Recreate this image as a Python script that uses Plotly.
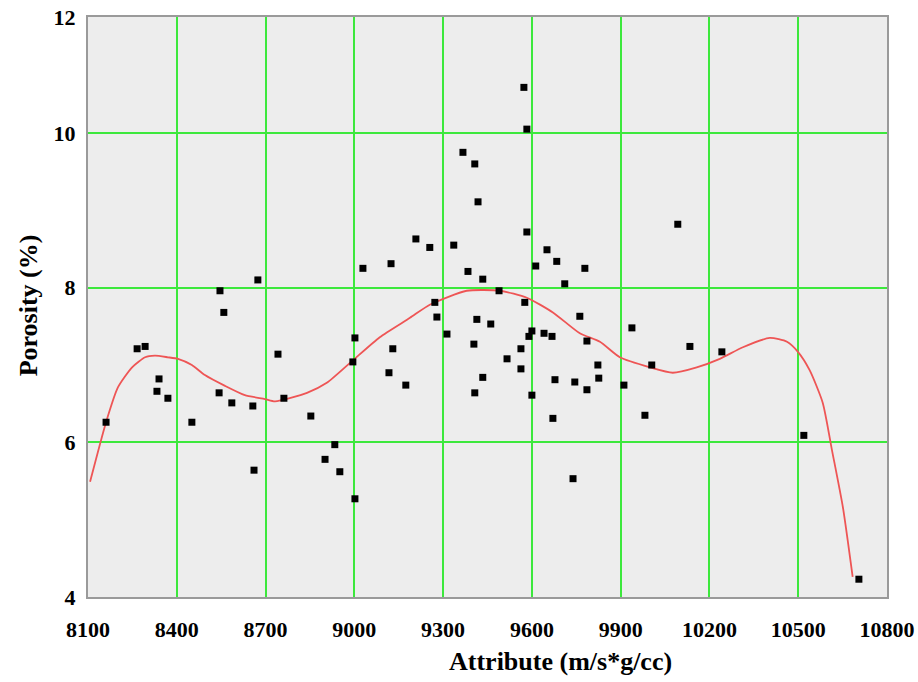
import plotly.graph_objects as go

# Scatter data: attribute (m/s*g/cc) vs porosity (%)
attr = [8161, 8266, 8293, 8340, 8333, 8370, 8451, 8543, 8546, 8559,
        8586, 8657, 8661, 8674, 8742, 8762, 8853, 8901, 8934, 8951,
        9002, 9002, 8995, 9029, 9117, 9130, 9124, 9174, 9208, 9255,
        9336, 9272, 9279, 9313, 9367, 9407, 9418, 9384, 9434, 9489,
        9414, 9461, 9404, 9434, 9407, 9516, 9563, 9563, 9576, 9573,
        9583, 9583, 9600, 9590, 9641, 9668, 9600, 9613, 9651, 9684,
        9711, 9779, 9762, 9786, 9678, 9745, 9786, 9671, 9739, 9823,
        9826, 9911, 9938, 9982, 10005, 10093, 10134, 10242, 10519, 10705]
porosity = [6.26, 7.21, 7.24, 6.82, 6.66, 6.57, 6.26, 6.64, 7.96, 7.68,
            6.51, 6.47, 5.64, 8.10, 7.14, 6.57, 6.34, 5.78, 5.97, 5.62,
            5.27, 7.35, 7.04, 8.25, 6.90, 7.21, 8.31, 6.74, 8.63, 8.52,
            8.55, 7.81, 7.62, 7.40, 9.75, 9.60, 9.11, 8.21, 8.11, 7.96,
            7.59, 7.53, 7.27, 6.84, 6.64, 7.08, 7.21, 6.95, 7.81, 10.59,
            10.05, 8.72, 7.44, 7.37, 7.41, 7.37, 6.61, 8.28, 8.49, 8.34,
            8.05, 8.25, 7.63, 7.31, 6.81, 6.78, 6.68, 6.31, 5.53, 7.00,
            6.83, 6.74, 7.48, 6.35, 7.00, 8.82, 7.24, 7.17, 6.09, 4.23]

# Fitted trend curve
fit_x = [8107, 8161, 8201, 8249, 8293, 8326, 8370, 8404, 8451, 8495,
         8563, 8630, 8698, 8732, 8840, 8907, 8995, 9086, 9188, 9255,
         9380, 9492, 9583, 9671, 9762, 9830, 9897, 9999, 10076, 10157,
         10235, 10313, 10404, 10462, 10499, 10539, 10583, 10614, 10651, 10684]
fit_y = [5.49, 6.26, 6.71, 6.97, 7.10, 7.12, 7.10, 7.08, 7.00, 6.87,
         6.73, 6.61, 6.56, 6.53, 6.64, 6.77, 7.06, 7.36, 7.61, 7.78,
         7.96, 7.96, 7.87, 7.68, 7.41, 7.30, 7.10, 6.97, 6.90, 6.97,
         7.08, 7.23, 7.35, 7.30, 7.17, 6.93, 6.51, 5.90, 5.16, 4.26]

x_ticks = [8100, 8400, 8700, 9000, 9300, 9600, 9900, 10200, 10500, 10800]
x_ticktext = [str(v) for v in x_ticks]
y_tickvals = [4, 6, 8, 10, 11.49]
y_ticktext = ["4", "6", "8", "10", "12"]

font_family = "Liberation Serif"
grid_color = "#3CE83C"

fig = go.Figure()
fig.add_trace(go.Scatter(
    x=fit_x, y=fit_y, mode="lines",
    line=dict(color="#EE5555", width=1.8, shape="spline", smoothing=0.6),
    showlegend=False, hoverinfo="skip"))
fig.add_trace(go.Scatter(
    x=attr, y=porosity, mode="markers",
    marker=dict(symbol="square", size=7, color="black"),
    showlegend=False))

fig.update_layout(
    width=918, height=682,
    margin=dict(l=88, r=31, t=17, b=85, autoexpand=False),
    paper_bgcolor="white",
    plot_bgcolor="#EDEDED",
    font=dict(family=font_family, color="black"),
    xaxis=dict(
        range=[8100, 10800], tickvals=x_ticks, ticktext=x_ticktext,
        showgrid=True, gridcolor=grid_color, gridwidth=2,
        showline=True, linecolor="#9A9A9A", linewidth=2, mirror=True,
        ticks="", zeroline=False, automargin=False, ticklabeloverflow="allow",
        tickfont=dict(family=font_family, size=22, color="black", weight="bold"),
        ticklabelstandoff=12,
    ),
    yaxis=dict(
        range=[4, 11.5], tickvals=y_tickvals, ticktext=y_ticktext,
        showgrid=True, gridcolor=grid_color, gridwidth=2,
        showline=True, linecolor="#9A9A9A", linewidth=2, mirror=True,
        ticks="", zeroline=False, automargin=False, ticklabeloverflow="allow",
        tickfont=dict(family=font_family, size=22, color="black", weight="bold"),
        ticklabelstandoff=6,
    ),
    annotations=[
        dict(text="<b>Attribute (m/s*g/cc)</b>", xref="paper", yref="paper",
             x=0.591, y=-0.112, xanchor="center", yanchor="middle",
             showarrow=False, font=dict(family=font_family, size=26, color="black")),
        dict(text="<b>Porosity (%)</b>", xref="paper", yref="paper",
             x=-0.075, y=0.503, xanchor="center", yanchor="middle", textangle=-90,
             showarrow=False, font=dict(family=font_family, size=26, color="black")),
    ],
)

fig.write_html(
    "out.html",
    config={"displayModeBar": False},
    post_script=("document.body.style.margin='0';"
                 "document.body.style.overflow='hidden';"
                 "document.documentElement.style.overflow='hidden';"),
)
